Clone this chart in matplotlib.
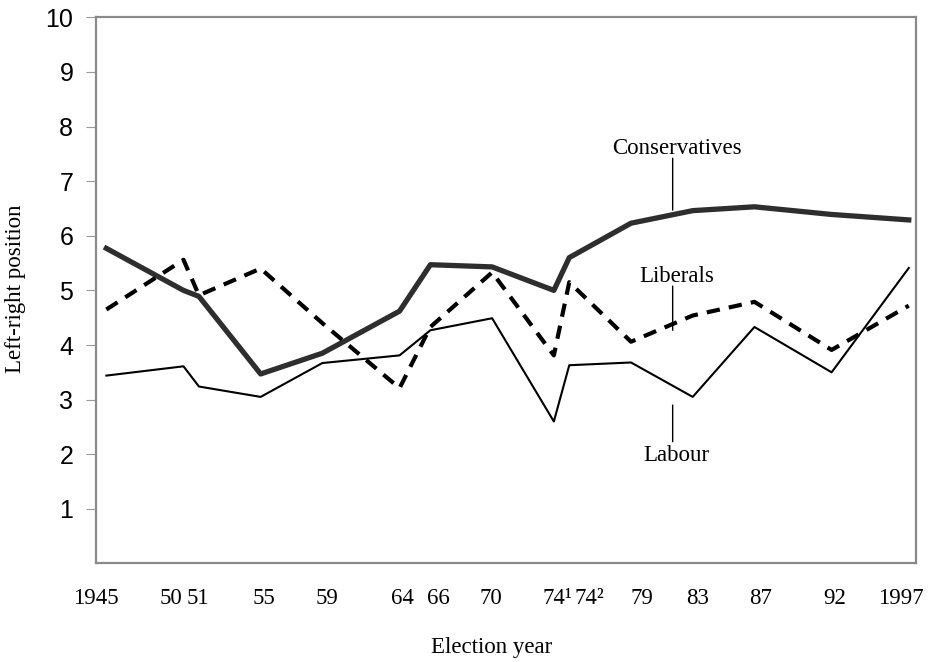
import matplotlib
matplotlib.use('Agg')
import matplotlib.pyplot as plt

# election years (Feb and Oct 1974 kept as two points)
years = [1945, 1950, 1951, 1955, 1959, 1964, 1966, 1970, 1974, 1975, 1979, 1983, 1987, 1992, 1997]
conservatives = [5.77, 5.00, 4.89, 3.47, 3.85, 4.62, 5.47, 5.43, 5.00, 5.60, 6.23, 6.46, 6.53, 6.39, 6.29]
labour = [3.44, 3.61, 3.24, 3.05, 3.67, 3.81, 4.27, 4.49, 2.60, 3.63, 3.68, 3.05, 4.33, 3.50, 5.41]
liberals = [4.65, 5.56, 4.91, 5.40, 4.40, 3.21, 4.33, 5.33, 3.81, 5.15, 4.06, 4.54, 4.79, 3.91, 4.72]

tick_labels = ['1945', '50', '51', '55', '59', '64', '66', '70', '74\u00b9', '74\u00b2',
               '79', '83', '87', '92', '1997']
tick_pos = [1944.3, 1949.2, 1950.9, 1955.2, 1959.3, 1964.2, 1966.5, 1969.9, 1974.2, 1976.3,
            1979.7, 1983.3, 1987.4, 1992.2, 1996.5]

serif = 'Liberation Serif'

fig = plt.figure(figsize=(9.33, 6.62), dpi=100)
ax = fig.add_axes([0.1024, 0.1488, 0.8794, 0.8251])

ax.plot(years, conservatives, color='#2e2e2e', lw=3.8)
ax.plot(years, labour, color='black', lw=1.5)
ax.plot(years, liberals, color='black', lw=3.0, dashes=(3.2, 2.2))

ax.set_xlim(1944.6, 1997.47)
ax.set_ylim(0, 10)

ax.set_yticks(range(1, 11))
ax.set_yticklabels([str(i) for i in range(1, 11)], fontfamily='Liberation Sans', fontsize=18)
ax.tick_params(axis='y', length=7, width=0.8, color='#999999', pad=9)

ax.set_xticks(tick_pos)
ax.set_xticklabels(tick_labels, fontfamily=serif, fontsize=16.5)
ax.tick_params(axis='x', length=0, pad=18)

for s in ax.spines.values():
    s.set_color('#8a8a8a')
    s.set_linewidth(1.6)

fig.text(492 / 933, 1 - 648 / 662, 'Election year', ha='center', va='center',
         fontfamily=serif, fontsize=16.5)
fig.text(16 / 933, 1 - 289 / 662, 'Left-right position', ha='center', va='center',
         rotation=90, fontfamily=serif, fontsize=16.5)

# party labels with vertical leader lines
lead_x = 1981.7
labels = [('Conservatives', 7.59, 7.42, 6.47),
          ('Liberals', 5.26, 5.08, 4.27),
          ('Labour', 1.97, 2.23, 2.90)]
for name, ytext, ystart, yend in labels:
    ax.text(1981.95, ytext, name, ha='center', va='center', fontfamily=serif, fontsize=16.5)
    ax.annotate('', xy=(lead_x, yend), xytext=(lead_x, ystart),
                arrowprops=dict(arrowstyle='-', lw=1.0, color='black', shrinkA=0, shrinkB=0))

fig.savefig('out.png', dpi=100)
